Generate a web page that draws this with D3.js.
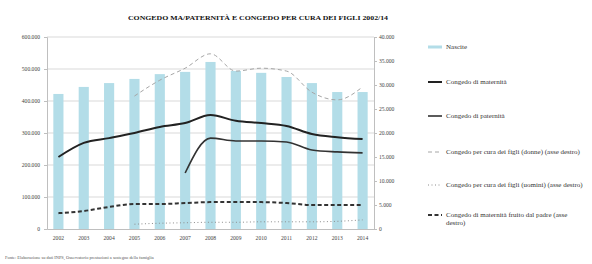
<!DOCTYPE html>
<html><head><meta charset="utf-8">
<script src="https://cdn.jsdelivr.net/npm/d3@7"></script>
<style>body{margin:0;background:#fff;}svg{display:block;font-family:"Liberation Serif","Times New Roman",serif;}</style>
</head><body>
<svg id="c" width="592" height="264"></svg>
<script>
const years = ["2002","2003","2004","2005","2006","2007","2008","2009","2010","2011","2012","2013","2014"];
const nascite = [422000,444000,456000,469000,484000,491000,522000,494000,488000,475000,456000,428000,428000];
const maternita = [225000,269000,284000,300000,319000,331000,356000,338000,331000,322000,297000,287000,281000];
const paternita = [null,null,null,null,null,175000,284000,275000,275000,272000,247000,241000,238000];
const curaDonne = [null,null,null,27700,31000,33500,36500,32900,33500,32900,28500,26900,29600];
const curaUomini = [null,null,null,1000,1200,1300,1400,1400,1500,1500,1500,1600,1900];
const padre = [3300,3750,4600,5200,5200,5400,5600,5600,5600,5400,5000,5000,5000];
const leftTicks = [0,100000,200000,300000,400000,500000,600000];
const rightTicks = [0,5000,10000,15000,20000,25000,30000,35000,40000];
const title = "CONGEDO MA/PATERNITÀ E CONGEDO PER CURA DEI FIGLI 2002/14";
const legendLabels = ["Nascite","Congedo di maternità","Congedo di paternità",
  "Congedo per cura dei figli (donne) (asse destro)",
  "Congedo per cura dei figli (uomini) (asse destro)",
  "Congedo di maternità fruito dal padre (asse|destro)"];
const source = "Fonte: Elaborazione su dati INPS, Osservatorio prestazioni a sostegno della famiglia";

const svg = d3.select("#c");
const L = 47, R = 374, T = 37, B = 229;
const fmt = v => v === 0 ? "0" : d3.format(",")(v).replace(/,/g, ".");

const x = d3.scaleBand().domain(years).range([L, R]).paddingInner(0.6).paddingOuter(0.25);
const yL = d3.scaleLinear().domain([0, 600000]).range([B, T]);
const yR = d3.scaleLinear().domain([0, 40000]).range([B, T]);

// title
svg.append("text").attr("x", 258).attr("y", 20).attr("text-anchor", "middle")
  .attr("font-size", 7).attr("font-weight", "bold").attr("fill", "#111")
  .attr("textLength", 260).attr("lengthAdjust", "spacingAndGlyphs").text(title);

// gridlines
svg.append("g").selectAll("line").data(leftTicks.filter(d => d > 0)).join("line")
  .attr("x1", L).attr("x2", R).attr("y1", d => yL(d)).attr("y2", d => yL(d))
  .attr("stroke", "#d9d9d9").attr("stroke-width", 1);

// axes
const axL = svg.append("g").attr("transform", `translate(${L},0)`)
  .call(d3.axisLeft(yL).tickValues(leftTicks).tickFormat(fmt).tickSize(3));
const axR = svg.append("g").attr("transform", `translate(${R},0)`)
  .call(d3.axisRight(yR).tickValues(rightTicks).tickFormat(fmt).tickSize(3));
const axB = svg.append("g").attr("transform", `translate(0,${B})`)
  .call(d3.axisBottom(x).tickSize(0).tickPadding(7));
[axL, axR, axB].forEach(a => {
  a.selectAll("path").attr("stroke", "#bfbfbf");
  a.selectAll("line").attr("stroke", "#bfbfbf");
  a.selectAll("text").attr("font-size", 5.6).attr("fill", "#444")
    .attr("font-family", "Liberation Serif, serif");
});
axL.selectAll("text").attr("x", -7);
axR.selectAll("text").attr("x", 5);

// bars
svg.append("g").selectAll("rect").data(years).join("rect")
  .attr("x", d => x(d)).attr("width", x.bandwidth())
  .attr("y", (d, i) => yL(nascite[i])).attr("height", (d, i) => B - yL(nascite[i]))
  .attr("fill", "#b3dde8");

const cx = d => x(d) + x.bandwidth() / 2;
function drawLine(vals, scale, style) {
  const line = d3.line().defined(d => d[1] != null).x(d => cx(d[0])).y(d => scale(d[1]))
    .curve(d3.curveMonotoneX);
  svg.append("path").datum(years.map((y, i) => [y, vals[i]]))
    .attr("d", line).attr("fill", "none")
    .attr("stroke", style.c).attr("stroke-width", style.w)
    .attr("stroke-dasharray", style.d || null);
}
const styles = {
  maternita: {c: "#222", w: 2},
  paternita: {c: "#333", w: 1.6},
  donne: {c: "#a6a6a6", w: 1, d: "4,3"},
  uomini: {c: "#8c8c8c", w: 1, d: "1,2.5"},
  padre: {c: "#333", w: 2, d: "4,2.5"}
};
drawLine(curaDonne, yR, styles.donne);
drawLine(curaUomini, yR, styles.uomini);
drawLine(padre, yR, styles.padre);
drawLine(maternita, yL, styles.maternita);
drawLine(paternita, yL, styles.paternita);

// legend
const legY = [47, 82, 116, 152, 185, 215];
const legStyles = [null, styles.maternita, styles.paternita, styles.donne, styles.uomini, styles.padre];
const lg = svg.append("g");
legendLabels.forEach((lab, i) => {
  const y0 = legY[i];
  if (i === 0) {
    lg.append("rect").attr("x", 428).attr("y", y0 - 1.5).attr("width", 14).attr("height", 3).attr("fill", "#b3dde8");
  } else {
    const s = legStyles[i];
    lg.append("line").attr("x1", 428).attr("x2", 442).attr("y1", y0).attr("y2", y0)
      .attr("stroke", s.c).attr("stroke-width", s.w).attr("stroke-dasharray", s.d || null);
  }
  const parts = lab.split("|");
  parts.forEach((p, j) => {
    lg.append("text").attr("x", 446).attr("y", y0 + 2 + j * 8).attr("font-size", 7)
      .attr("fill", "#333").text(p);
  });
});

// source
svg.append("text").attr("x", 5).attr("y", 259).attr("font-size", 4.4).attr("fill", "#555").text(source);
</script>
</body></html>
